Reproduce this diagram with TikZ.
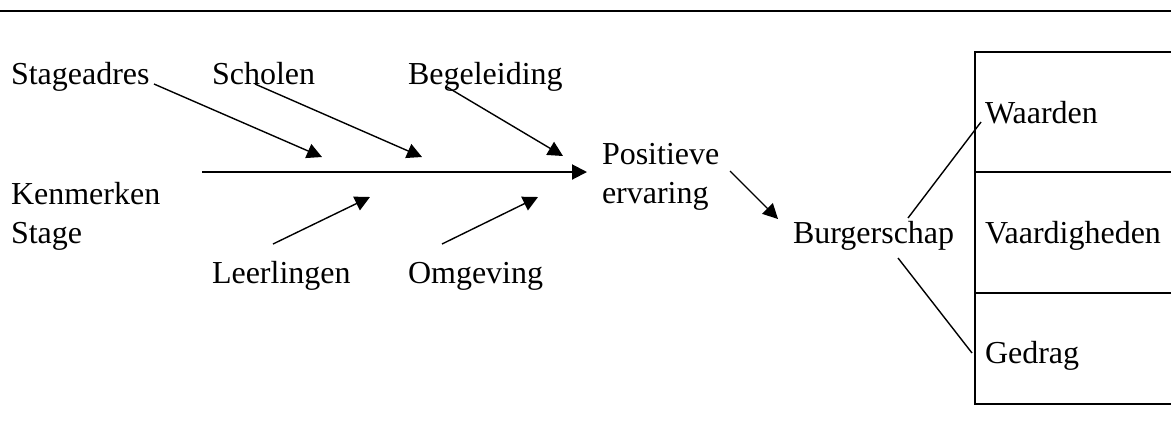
\documentclass[tikz,border=0pt]{standalone}
\usepackage{fontspec}
\setmainfont{Liberation Serif}
\usetikzlibrary{arrows.meta}
\tikzset{
  lbl/.style={anchor=base west, inner sep=0pt, outer sep=0pt, font=\fontsize{16}{19.5}\selectfont, align=left},
  thinarrow/.style={line width=0.7pt, -{Triangle[length=7.5pt,width=7.5pt]}},
  mainarrow/.style={line width=1pt, -{Triangle[length=7.5pt,width=7.5pt]}},
  thinline/.style={line width=0.7pt},
  boxline/.style={line width=1pt}
}
\begin{document}
\begin{tikzpicture}[x=0.5pt,y=-0.5pt]
\useasboundingbox (0,0) rectangle (1171,441);
% top rule
\coordinate (tl) at (0,11);
\coordinate (tr) at (1171,11);
\draw[boxline] (tl) -- (tr);
% labels (multi-line nodes: base = last line)
\node[lbl] (stageadres) at (11,84) {Stageadres};
\node[lbl] (scholen) at (212,84) {Scholen};
\node[lbl] (begeleiding) at (408,84) {Begeleiding};
\node[lbl] (kenmerken) at (11,243) {Kenmerken\\Stage};
\node[lbl] (leerlingen) at (212,283) {Leerlingen};
\node[lbl] (omgeving) at (408,283) {Omgeving};
\node[lbl] (positieve) at (602,203) {Positieve\\ervaring};
\node[lbl] (burgerschap) at (793,243) {Burgerschap};
\node[lbl] (waarden) at (985,123) {Waarden};
\node[lbl] (vaardigheden) at (985,243) {Vaardigheden};
\node[lbl] (gedrag) at (985,363) {Gedrag};
% arrow end points
\coordinate (a1s) at (154,84);  \coordinate (a1e) at (322,157);
\coordinate (a2s) at (255,84);  \coordinate (a2e) at (422,157);
\coordinate (a3s) at (447,87);  \coordinate (a3e) at (563,156);
\coordinate (ms) at (202,172);  \coordinate (me) at (587,172);
\coordinate (a4s) at (273,244); \coordinate (a4e) at (370,197);
\coordinate (a5s) at (442,244); \coordinate (a5e) at (538,197);
\coordinate (a6s) at (730,171); \coordinate (a6e) at (778,219);
\coordinate (l1s) at (908,218); \coordinate (l1e) at (981,122);
\coordinate (l2s) at (898,258); \coordinate (l2e) at (972,353);
\draw[thinarrow] (a1s) -- (a1e);
\draw[thinarrow] (a2s) -- (a2e);
\draw[thinarrow] (a3s) -- (a3e);
\draw[mainarrow] (ms) -- (me);
\draw[thinarrow] (a4s) -- (a4e);
\draw[thinarrow] (a5s) -- (a5e);
\draw[thinarrow] (a6s) -- (a6e);
\draw[thinline] (l1s) -- (l1e);
\draw[thinline] (l2s) -- (l2e);
% box
\coordinate (b1) at (975,52);   \coordinate (b1r) at (1171,52);
\coordinate (b2) at (975,172);  \coordinate (b2r) at (1171,172);
\coordinate (b3) at (975,293);  \coordinate (b3r) at (1171,293);
\coordinate (b4) at (975,404);  \coordinate (b4r) at (1171,404);
\draw[boxline] (b1r) -- (b1) -- (b4) -- (b4r);
\draw[boxline] (b2) -- (b2r);
\draw[boxline] (b3) -- (b3r);
\end{tikzpicture}
\end{document}
